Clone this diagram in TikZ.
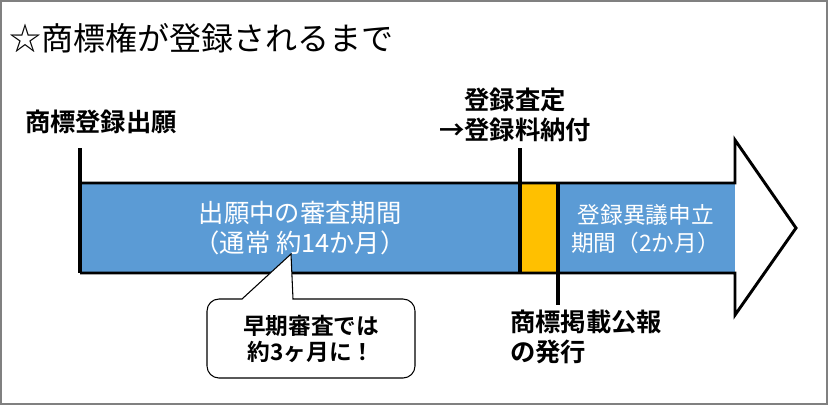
\documentclass[tikz,border=0pt]{standalone}
\usepackage{fontspec}
\newfontfamily\jp{Noto Sans CJK JP}[BoldFont={Noto Sans CJK JP Bold}]
\definecolor{BarBlue}{RGB}{91,155,213}
\definecolor{BarGold}{RGB}{255,192,0}
\definecolor{FrameGray}{RGB}{128,128,128}
\usetikzlibrary{positioning, calc}
\tikzset{
  label text/.style={inner sep=0pt, font=\jp\bfseries\fontsize{19pt}{23pt}\selectfont},
  bar text/.style={inner sep=0pt, text=white, font=\jp\fontsize{19pt}{22.5pt}\selectfont},
  marker/.style={line width=3pt},
}

\begin{document}
\begin{tikzpicture}[x=0.75pt, y=-0.75pt]
  \useasboundingbox (0,0) rectangle (828,405);
  \draw[FrameGray, line width=1.5pt] (1,1) rectangle (827,404);
  \node[inner sep=0pt, anchor=west, font=\jp\fontsize{24pt}{28pt}\selectfont] (title) at (9,38) {☆商標権が登録されるまで};

  % arrow
  \fill[white] (80,183) -- (735,183) -- (735,140) -- (796,228) -- (735,315) -- (735,273) -- (80,273) -- cycle;
  \fill[BarBlue] (80,183) rectangle (520,273);
  \fill[BarGold] (520,183) rectangle (558,273);
  \fill[BarBlue] (558,183) rectangle (735,273);
  \draw[line width=2.2pt, line join=miter] (80,183) -- (735,183) -- (735,140) -- (796,228) -- (735,315) -- (735,273) -- (80,273);

  \coordinate (applytop) at (80,148);
  \coordinate (applybot) at (80,273);
  \coordinate (decitop) at (520,148);
  \coordinate (decibot) at (520,273);
  \coordinate (gaztop) at (558,183);
  \coordinate (gazbot) at (558,305);
  \draw[marker] (applytop) -- (applybot);
  \draw[marker] (decitop) -- (decibot);
  \draw[marker] (gaztop) -- (gazbot);

  \node[bar text, align=center] (exam) at (300,228) {出願中の審査期間\\（通常 約14か月）};
  \node[bar text, align=left, anchor=west, font=\jp\fontsize{17pt}{21pt}\selectfont] (oppo) at (571,229) {\hspace{5pt}登録異議申立\\期間（2か月）};

  % callout
  \coordinate (tip) at (291,254);
  \draw[fill=white, line width=0.8pt] (tip) -- (242,299) [rounded corners=9pt] -- (207,299) -- (207,378) -- (415,378) -- (415,299) [sharp corners] -- (293,299) -- cycle;
  \node[label text, align=center, font=\jp\bfseries\fontsize{17pt}{20pt}\selectfont] (early) at (311,339) {早期審査では\\約3ヶ月に！};

  \node[label text] (apply) at (101,122) {商標登録出願};
  \node[label text, align=center] (decision) at (515,115) {登録査定\\→登録料納付};
  \node[label text, align=left, anchor=west] (gazette) at (510,337) {商標掲載公報\\の発行};
\end{tikzpicture}
\end{document}
